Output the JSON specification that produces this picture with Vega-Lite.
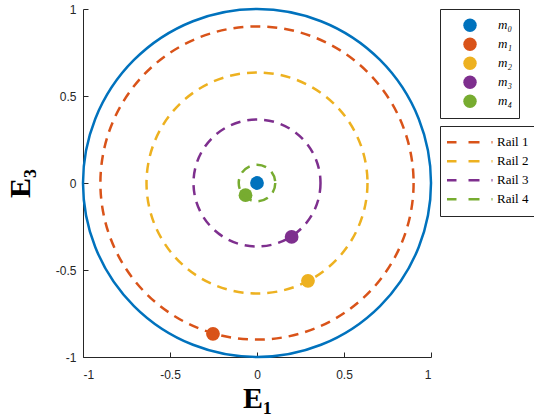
{
  "$schema": "https://vega.github.io/schema/vega-lite/v6.json",
  "width": 348,
  "height": 348,
  "autosize": {"type": "none"},
  "padding": {"left": 83, "top": 9, "right": 103, "bottom": 59},
  "background": "white",
  "config": {
    "view": {"stroke": null},
    "axis": {
      "grid": false,
      "domainColor": "#262626",
      "domainWidth": 1,
      "tickColor": "#262626",
      "tickSize": -5,
      "labelColor": "#262626",
      "labelFont": "Liberation Sans",
      "labelFontSize": 12,
      "titleFont": "Liberation Serif",
      "titleFontWeight": "bold",
      "titleFontSize": 30,
      "titleColor": "#000000"
    },
    "legend": {
      "labelFont": "Liberation Serif",
      "labelFontSize": 13,
      "labelColor": "#000000",
      "strokeColor": "#262626",
      "fillColor": "#ffffff",
      "padding": 7,
      "rowPadding": 0,
      "offset": 9,
      "clipHeight": 18.5
    }
  },
  "layer": [
    {
      "data": {"values": [{"series": "m₀", "x": 0, "y": 0}, {"series": "m₁", "x": -0.253, "y": -0.867}, {"series": "m₂", "x": 0.293, "y": -0.562}, {"series": "m₃", "x": 0.199, "y": -0.31}, {"series": "m₄", "x": -0.066, "y": -0.07}]},
      "mark": {"type": "point", "shape": "circle", "filled": true, "size": 190, "opacity": 1},
      "encoding": {
        "x": {"field": "x", "type": "quantitative", "scale": {"domain": [-1, 1], "nice": false, "zero": false},
          "axis": {"values": [-1, -0.5, 0, 0.5, 1], "labelExpr": "'' + datum.value", "title": "E₁", "titlePadding": 3, "labelPadding": 17}},
        "y": {"field": "y", "type": "quantitative", "scale": {"domain": [-1, 1], "nice": false, "zero": false},
          "axis": {"values": [-1, -0.5, 0, 0.5, 1], "labelExpr": "'' + datum.value", "title": "E₃", "titlePadding": 20, "labelPadding": 12}},
        "fill": {"field": "series", "type": "nominal",
          "scale": {"domain": ["m₀", "m₁", "m₂", "m₃", "m₄"], "range": ["#0072BD", "#D95319", "#EDB120", "#7E2F8E", "#77AC30"]},
          "legend": {
            "title": null,
            "symbolType": "circle",
            "symbolSize": 180,
            "symbolStrokeWidth": 0,
            "symbolOffset": 16,
            "labelOffset": 21,
            "labelFontStyle": "italic"
          }
        }
      }
    },
    {
      "data": {"values": [{"series": "Rail 1", "r": 0.9, "x": 0, "y": 0}, {"series": "Rail 2", "r": 0.635, "x": 0, "y": 0}, {"series": "Rail 3", "r": 0.365, "x": 0, "y": 0}, {"series": "Rail 4", "r": 0.105, "x": 0, "y": 0}]},
      "mark": {"type": "point", "shape": "circle", "filled": false, "strokeWidth": 2.5, "strokeDash": [10, 7], "opacity": 1},
      "encoding": {
        "x": {"field": "x", "type": "quantitative"},
        "y": {"field": "y", "type": "quantitative"},
        "size": {"field": "r", "type": "quantitative", "scale": {"type": "pow", "exponent": 2, "domain": [0, 1], "range": [0, 121104]}, "legend": null},
        "stroke": {"field": "series", "type": "nominal",
          "scale": {"domain": ["Rail 1", "Rail 2", "Rail 3", "Rail 4"], "range": ["#D95319", "#EDB120", "#7E2F8E", "#77AC30"]},
          "legend": {
            "title": null,
            "symbolType": "stroke",
            "symbolSize": 2209,
            "symbolDash": [11, 12],
            "symbolStrokeWidth": 2.5,
            "symbolOffset": -3,
            "labelOffset": 3
          }
        }
      }
    },
    {
      "data": {"values": [{"r": 1, "x": 0, "y": 0}]},
      "mark": {"type": "point", "shape": "circle", "filled": false, "stroke": "#0072BD", "strokeWidth": 2.5, "opacity": 1},
      "encoding": {
        "x": {"field": "x", "type": "quantitative"},
        "y": {"field": "y", "type": "quantitative"},
        "size": {"field": "r", "type": "quantitative"}
      }
    }
  ]
}
